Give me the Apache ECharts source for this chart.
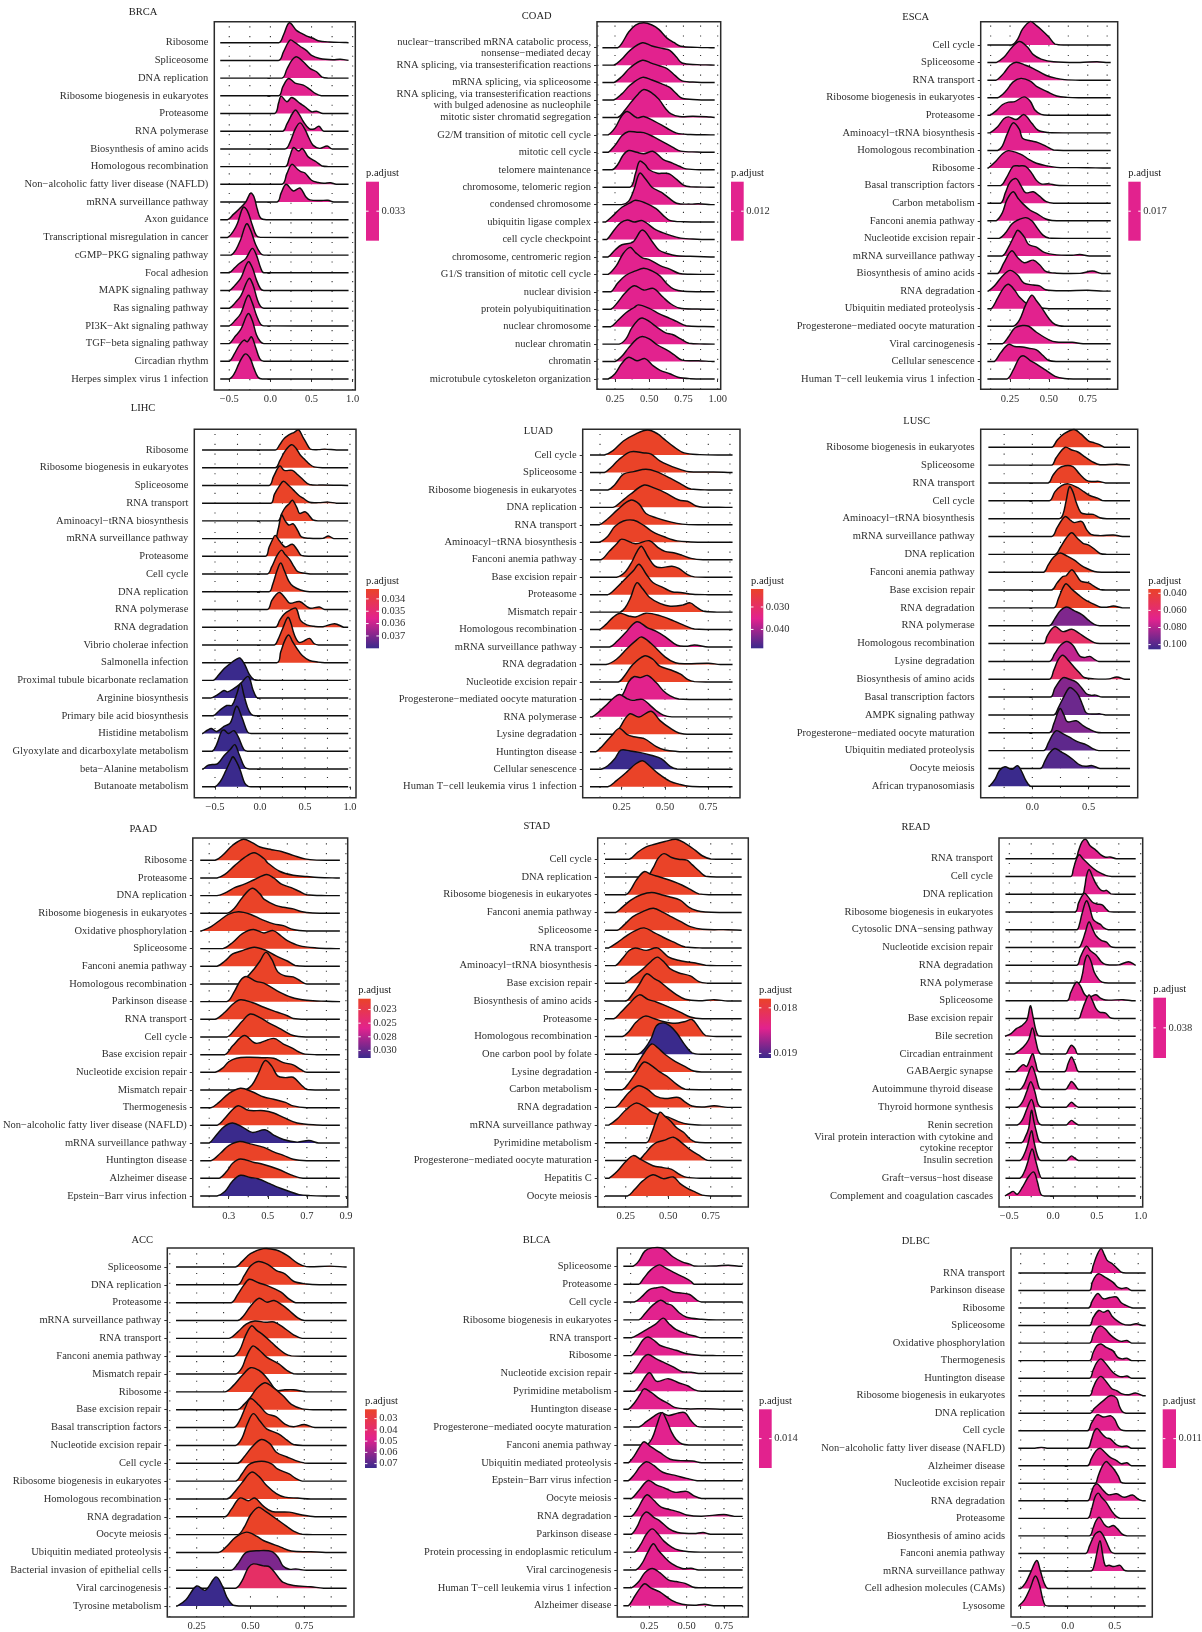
<!DOCTYPE html>
<html>
<head>
<meta charset="utf-8">
<script src="https://cdn.jsdelivr.net/npm/echarts@6/dist/echarts.min.js"></script>
<style>
html,body{margin:0;padding:0;background:#fff;}
#chart{width:1202px;height:1632px;}
</style>
</head>
<body>
<div id="chart"></div>
<script>
// ---------------- data ----------------
// Each ridge row is a flat list of [x, height] pairs; height is in units of one row spacing.

const brcaTerms = ["Ribosome","Spliceosome","DNA replication","Ribosome biogenesis in eukaryotes","Proteasome","RNA polymerase","Biosynthesis of amino acids","Homologous recombination","Non\u2212alcoholic fatty liver disease (NAFLD)","mRNA surveillance pathway","Axon guidance","Transcriptional misregulation in cancer","cGMP\u2212PKG signaling pathway","Focal adhesion","MAPK signaling pathway","Ras signaling pathway","PI3K\u2212Akt signaling pathway","TGF\u2212beta signaling pathway","Circadian rhythm","Herpes simplex virus 1 infection"];
const brcaPadj = [0.033,0.033,0.033,0.033,0.033,0.033,0.033,0.033,0.033,0.033,0.033,0.033,0.033,0.033,0.033,0.033,0.033,0.033,0.033,0.033];
const brcaTicks = [-0.5, 0, 0.5, 1.0];
const brcaBreaks = [0.033];
const brcaBreakLabels = ["0.033"];
const brcaRidges = [
 [0.1,0, 0.16,0.45, 0.23,1.13, 0.32,0.68, 0.38,0.53, 0.46,0.34, 0.52,0.25, 0.58,0.11, 0.72,0.04, 0.9,0.01],
 [0.1,0, 0.16,0.5, 0.24,1.15, 0.3,1.0, 0.36,0.8, 0.44,0.55, 0.5,0.28, 0.6,0.11, 0.76,0.04, 0.85,0.07, 0.95,0],
 [0.14,0, 0.2,0.5, 0.26,1.0, 0.32,1.2, 0.4,0.92, 0.48,0.55, 0.56,0.36, 0.63,0.05, 0.7,0],
 [0.1,0, 0.15,0.5, 0.22,0.98, 0.3,0.72, 0.4,0.6, 0.48,0.36, 0.55,0.12, 0.62,0],
 [0.05,0, 0.1,0.6, 0.13,0.98, 0.2,0.66, 0.26,0.9, 0.36,0.57, 0.42,0.38, 0.5,0.1, 0.56,0.13, 0.64,0],
 [0.15,0, 0.2,0.4, 0.3,1.19, 0.35,0.95, 0.4,0.55, 0.47,0.15, 0.53,0.12, 0.59,0.28, 0.65,0],
 [0.18,0, 0.24,0.4, 0.3,1.1, 0.36,1.47, 0.42,1.1, 0.47,0.6, 0.52,0.2, 0.6,0.03, 0.69,0.16, 0.75,0],
 [0.18,0, 0.23,0.5, 0.28,1.07, 0.34,0.88, 0.39,1.02, 0.46,0.55, 0.56,0.26, 0.63,0.03, 0.7,0],
 [0.14,0, 0.2,0.6, 0.26,1.13, 0.33,0.85, 0.37,0.72, 0.42,0.64, 0.5,0.23, 0.58,0.1, 0.65,0.06, 0.73,0.09, 0.8,0],
 [0.08,0, 0.13,0.5, 0.19,1.0, 0.28,0.62, 0.36,0.79, 0.43,0.3, 0.48,0.12, 0.6,0.08, 0.7,0.1, 0.77,0],
 [-0.52,0, -0.45,0.3, -0.38,0.6, -0.3,1.0, -0.24,1.5, -0.2,1.3, -0.16,0.6, -0.12,0.1, -0.05,0],
 [-0.52,0, -0.45,0.35, -0.4,0.8, -0.33,1.7, -0.28,1.5, -0.22,0.7, -0.17,0.1, -0.12,0],
 [-0.48,0, -0.42,0.3, -0.36,0.9, -0.29,1.77, -0.24,1.4, -0.18,0.6, -0.12,0.1, -0.08,0],
 [-0.5,0, -0.43,0.3, -0.37,0.55, -0.3,0.8, -0.22,1.38, -0.17,1.0, -0.12,0.3, -0.08,0],
 [-0.5,0, -0.43,0.3, -0.36,0.7, -0.27,1.62, -0.22,1.3, -0.17,0.6, -0.12,0.1, -0.08,0],
 [-0.5,0, -0.43,0.3, -0.36,0.7, -0.26,1.68, -0.21,1.3, -0.16,0.5, -0.12,0.1, -0.08,0],
 [-0.5,0, -0.43,0.3, -0.36,0.7, -0.27,1.73, -0.22,1.3, -0.17,0.6, -0.12,0.1, -0.08,0],
 [-0.5,0, -0.43,0.4, -0.36,0.8, -0.27,1.7, -0.22,1.3, -0.17,0.5, -0.12,0.1, -0.08,0],
 [-0.5,0, -0.44,0.4, -0.38,0.9, -0.32,1.2, -0.28,1.1, -0.23,1.38, -0.18,0.8, -0.13,0.15, -0.08,0],
 [-0.5,0, -0.44,0.3, -0.38,0.9, -0.31,1.41, -0.25,1.2, -0.2,0.6, -0.15,0.1, -0.1,0]
];

const coadTerms = ["nuclear\u2212transcribed mRNA catabolic process,\nnonsense\u2212mediated decay","RNA splicing, via transesterification reactions","mRNA splicing, via spliceosome","RNA splicing, via transesterification reactions\nwith bulged adenosine as nucleophile","mitotic sister chromatid segregation","G2/M transition of mitotic cell cycle","mitotic cell cycle","telomere maintenance","chromosome, telomeric region","condensed chromosome","ubiquitin ligase complex","cell cycle checkpoint","chromosome, centromeric region","G1/S transition of mitotic cell cycle","nuclear division","protein polyubiquitination","nuclear chromosome","nuclear chromatin","chromatin","microtubule cytoskeleton organization"];
const coadPadj = [0.012,0.012,0.012,0.012,0.012,0.012,0.012,0.012,0.012,0.012,0.012,0.012,0.012,0.012,0.012,0.012,0.012,0.012,0.012,0.012];
const coadTicks = [0.25, 0.5, 0.75, 1.0];
const coadBreaks = [0.012];
const coadBreakLabels = ["0.012"];
const coadRidges = [
 [0.27,0, 0.3,0.25, 0.35,0.9, 0.4,1.3, 0.46,1.43, 0.52,1.3, 0.57,1.05, 0.63,0.55, 0.68,0.3, 0.73,0.08, 0.85,0.02, 0.95,0],
 [0.24,0, 0.3,0.35, 0.36,0.85, 0.45,1.28, 0.52,1.1, 0.6,0.95, 0.65,0.85, 0.7,0.45, 0.74,0.12, 0.85,0.03, 0.95,0.01],
 [0.24,0, 0.3,0.35, 0.36,0.85, 0.45,1.28, 0.52,1.1, 0.58,0.95, 0.63,0.8, 0.69,0.4, 0.74,0.1, 0.85,0.02, 0.95,0],
 [0.24,0, 0.3,0.35, 0.36,0.85, 0.45,1.3, 0.52,1.15, 0.6,0.9, 0.65,0.72, 0.7,0.35, 0.74,0.1, 0.85,0.02, 0.95,0],
 [0.27,0, 0.32,0.4, 0.37,0.9, 0.42,1.35, 0.46,1.6, 0.52,1.4, 0.57,1.05, 0.62,0.5, 0.66,0.2, 0.72,0.05, 0.82,0.07, 0.95,0.02],
 [0.2,0, 0.25,0.4, 0.3,1.1, 0.34,1.34, 0.41,0.98, 0.46,1.05, 0.54,0.78, 0.63,0.38, 0.7,0.1, 0.8,0.02, 0.95,0],
 [0.2,0, 0.25,0.4, 0.3,0.95, 0.35,1.19, 0.41,1.15, 0.46,1.13, 0.53,0.9, 0.6,0.6, 0.67,0.3, 0.73,0.07, 0.85,0.02, 0.95,0],
 [0.23,0, 0.27,0.3, 0.31,0.85, 0.35,1.1, 0.41,1.0, 0.46,0.92, 0.53,1.05, 0.6,0.6, 0.67,0.38, 0.72,0.2, 0.77,0.05, 0.9,0],
 [0.36,0, 0.4,0.8, 0.43,1.49, 0.47,1.3, 0.5,1.0, 0.56,0.8, 0.61,0.8, 0.65,0.75, 0.7,0.45, 0.75,0.12, 0.8,0.02, 0.95,0],
 [0.3,0, 0.35,0.2, 0.39,0.9, 0.43,1.8, 0.47,1.5, 0.52,1.0, 0.59,0.7, 0.64,0.4, 0.7,0.08, 0.8,0.03, 0.86,0.05, 0.95,0],
 [0.18,0, 0.24,0.4, 0.3,0.85, 0.36,1.1, 0.4,1.25, 0.47,1.1, 0.55,0.77, 0.6,0.4, 0.65,0.1, 0.75,0.02, 0.95,0],
 [0.19,0, 0.24,0.5, 0.29,0.95, 0.34,1.12, 0.39,1.0, 0.45,1.08, 0.55,0.55, 0.65,0.25, 0.73,0.08, 0.85,0.02, 0.95,0],
 [0.2,0, 0.25,0.4, 0.3,0.7, 0.38,0.85, 0.45,1.54, 0.52,0.9, 0.57,0.4, 0.63,0.2, 0.7,0.07, 0.85,0.03, 0.95,0],
 [0.2,0, 0.26,0.5, 0.31,1.2, 0.36,1.55, 0.4,1.25, 0.45,0.95, 0.5,0.85, 0.58,0.5, 0.65,0.3, 0.72,0.05, 0.8,0.01, 0.95,0],
 [0.22,0, 0.27,0.5, 0.33,0.95, 0.4,1.2, 0.46,1.35, 0.52,1.2, 0.58,0.9, 0.63,0.45, 0.68,0.15, 0.75,0.03, 0.95,0],
 [0.22,0, 0.27,0.4, 0.32,0.9, 0.39,1.35, 0.46,1.1, 0.53,1.2, 0.6,0.7, 0.65,0.35, 0.72,0.07, 0.85,0.01, 0.95,0],
 [0.22,0, 0.27,0.35, 0.33,0.8, 0.39,1.1, 0.42,1.25, 0.5,1.05, 0.57,0.75, 0.65,0.48, 0.7,0.3, 0.77,0.05, 0.9,0.01],
 [0.28,0, 0.33,0.3, 0.37,0.9, 0.42,1.4, 0.45,1.5, 0.5,1.3, 0.56,0.95, 0.62,0.65, 0.67,0.55, 0.73,0.3, 0.79,0.05, 0.9,0.01],
 [0.25,0, 0.3,0.3, 0.35,0.8, 0.41,1.3, 0.45,1.44, 0.5,1.3, 0.56,0.95, 0.63,0.65, 0.68,0.4, 0.74,0.08, 0.86,0.05, 0.95,0.01],
 [0.2,0, 0.25,0.3, 0.3,0.9, 0.35,1.25, 0.41,1.05, 0.47,1.17, 0.53,0.75, 0.58,0.5, 0.65,0.3, 0.71,0.1, 0.8,0.02, 0.95,0]
];

const escaTerms = ["Cell cycle","Spliceosome","RNA transport","Ribosome biogenesis in eukaryotes","Proteasome","Aminoacyl\u2212tRNA biosynthesis","Homologous recombination","Ribosome","Basal transcription factors","Carbon metabolism","Fanconi anemia pathway","Nucleotide excision repair","mRNA surveillance pathway","Biosynthesis of amino acids","RNA degradation","Ubiquitin mediated proteolysis","Progesterone\u2212mediated oocyte maturation","Viral carcinogenesis","Cellular senescence","Human T\u2212cell leukemia virus 1 infection"];
const escaPadj = [0.017,0.017,0.017,0.017,0.017,0.017,0.017,0.017,0.017,0.017,0.017,0.017,0.017,0.017,0.017,0.017,0.017,0.017,0.017,0.017];
const escaTicks = [0.25, 0.5, 0.75];
const escaBreaks = [0.017];
const escaBreakLabels = ["0.017"];
const escaRidges = [
 [0.26,0, 0.3,0.35, 0.33,0.9, 0.38,1.33, 0.42,1.1, 0.46,0.8, 0.5,0.45, 0.54,0.05, 0.6,0],
 [0.16,0, 0.21,0.3, 0.26,0.85, 0.31,1.2, 0.36,0.9, 0.4,0.45, 0.45,0.2, 0.53,0.05, 0.7,0.01, 0.81,0.05, 0.88,0],
 [0.16,0, 0.21,0.4, 0.25,0.85, 0.29,1.02, 0.35,0.85, 0.4,0.66, 0.48,0.28, 0.55,0.1, 0.6,0.03, 0.7,0],
 [0.17,0, 0.22,0.35, 0.27,0.9, 0.32,1.1, 0.38,0.95, 0.42,0.65, 0.49,0.34, 0.55,0.1, 0.62,0.02, 0.7,0],
 [0.12,0, 0.16,0.25, 0.2,0.6, 0.24,0.75, 0.28,0.78, 0.34,1.05, 0.38,0.8, 0.41,0.3, 0.45,0.05, 0.5,0],
 [0.12,0, 0.17,0.35, 0.21,0.8, 0.24,0.91, 0.29,0.76, 0.34,1.04, 0.39,0.55, 0.43,0.15, 0.5,0.02, 0.6,0],
 [0.17,0, 0.2,0.25, 0.23,0.9, 0.27,1.57, 0.31,1.2, 0.33,0.7, 0.38,0.55, 0.43,0.45, 0.48,0.25, 0.53,0.03, 0.6,0],
 [0.11,0, 0.16,0.4, 0.2,0.8, 0.24,0.99, 0.3,0.85, 0.33,0.74, 0.37,0.5, 0.42,0.27, 0.49,0.12, 0.55,0.04, 0.75,0.02, 0.85,0],
 [0.19,0, 0.23,0.5, 0.27,1.1, 0.31,1.12, 0.35,1.1, 0.39,0.7, 0.42,0.3, 0.45,0.1, 0.5,0.1, 0.55,0.02, 0.65,0],
 [0.19,0, 0.22,0.6, 0.25,1.2, 0.29,1.4, 0.32,1.0, 0.35,0.6, 0.4,0.65, 0.44,0.4, 0.48,0.1, 0.53,0],
 [0.16,0, 0.2,0.45, 0.23,1.2, 0.27,1.65, 0.3,1.3, 0.33,0.99, 0.38,0.6, 0.42,0.42, 0.48,0.1, 0.52,0.02, 0.6,0],
 [0.18,0, 0.22,0.3, 0.26,0.8, 0.29,1.0, 0.35,1.18, 0.39,1.0, 0.42,0.65, 0.46,0.2, 0.5,0.02, 0.6,0],
 [0.2,0, 0.24,0.5, 0.28,1.2, 0.3,1.46, 0.34,1.1, 0.37,0.65, 0.42,0.5, 0.47,0.2, 0.55,0.06, 0.65,0.04, 0.7,0.08, 0.76,0],
 [0.17,0, 0.21,0.6, 0.26,1.29, 0.3,0.9, 0.34,0.61, 0.4,0.76, 0.44,0.5, 0.48,0.12, 0.55,0.02, 0.7,0.01, 0.78,0.14, 0.84,0],
 [0.11,0, 0.15,0.3, 0.2,0.85, 0.25,1.18, 0.3,0.9, 0.34,0.45, 0.4,0.35, 0.44,0.3, 0.48,0.08, 0.6,0.02, 0.75,0.05, 0.85,0],
 [0.13,0, 0.17,0.6, 0.21,1.2, 0.24,1.39, 0.28,1.05, 0.31,0.66, 0.36,0.28, 0.43,0.08, 0.5,0],
 [0.27,0, 0.31,0.35, 0.35,1.2, 0.39,1.77, 0.42,1.45, 0.45,1.1, 0.5,0.44, 0.54,0.1, 0.6,0],
 [0.2,0, 0.24,0.4, 0.28,0.9, 0.33,1.04, 0.37,1.0, 0.42,0.66, 0.5,0.23, 0.55,0.1, 0.65,0.09, 0.72,0],
 [0.15,0, 0.19,0.5, 0.24,0.97, 0.28,0.85, 0.33,0.82, 0.37,0.75, 0.42,0.66, 0.46,0.35, 0.5,0.05, 0.55,0],
 [0.23,0, 0.27,0.5, 0.31,1.2, 0.34,1.31, 0.38,1.05, 0.42,0.85, 0.48,0.5, 0.54,0.15, 0.6,0.03, 0.7,0]
];

const lihcTerms = ["Ribosome","Ribosome biogenesis in eukaryotes","Spliceosome","RNA transport","Aminoacyl\u2212tRNA biosynthesis","mRNA surveillance pathway","Proteasome","Cell cycle","DNA replication","RNA polymerase","RNA degradation","Vibrio cholerae infection","Salmonella infection","Proximal tubule bicarbonate reclamation","Arginine biosynthesis","Primary bile acid biosynthesis","Histidine metabolism","Glyoxylate and dicarboxylate metabolism","beta\u2212Alanine metabolism","Butanoate metabolism"];
const lihcPadj = [0.0332,0.0332,0.0332,0.0332,0.0332,0.0332,0.0332,0.0332,0.0332,0.0332,0.0332,0.0332,0.0332,0.038,0.038,0.038,0.038,0.038,0.038,0.038];
const lihcTicks = [-0.5, 0, 0.5, 1.0];
const lihcBreaks = [0.034, 0.035, 0.036, 0.037];
const lihcBreakLabels = ["0.034","0.035","0.036","0.037"];
const lihcRidges = [
 [0.17,0, 0.22,0.3, 0.26,0.6, 0.32,0.85, 0.38,1.0, 0.43,1.13, 0.48,0.7, 0.52,0.35, 0.56,0.05, 0.65,0.02, 0.72,0.05, 0.85,0],
 [0.17,0, 0.22,0.4, 0.28,0.95, 0.35,1.3, 0.4,1.1, 0.45,0.7, 0.5,0.45, 0.55,0.2, 0.6,0.05, 0.7,0],
 [0.1,0, 0.15,0.5, 0.22,1.1, 0.27,0.85, 0.36,0.85, 0.42,0.6, 0.48,0.32, 0.55,0.05, 0.7,0.02, 0.9,0.01],
 [0.12,0, 0.16,0.5, 0.22,1.0, 0.26,1.24, 0.32,1.0, 0.37,0.75, 0.43,0.45, 0.48,0.28, 0.55,0.05, 0.65,0.03, 0.76,0.06, 0.85,0],
 [0.2,0, 0.24,0.4, 0.28,0.75, 0.33,1.0, 0.36,1.17, 0.41,0.75, 0.44,0.42, 0.5,0.52, 0.54,0.35, 0.59,0.05, 0.65,0],
 [0.16,0, 0.2,0.5, 0.24,1.33, 0.28,1.0, 0.32,0.77, 0.37,0.83, 0.42,0.45, 0.46,0.1, 0.55,0.02, 0.7,0.02, 0.76,0.15, 0.82,0],
 [0.06,0, 0.1,0.5, 0.14,0.95, 0.17,1.18, 0.22,0.85, 0.28,0.53, 0.36,0.68, 0.41,0.4, 0.46,0.05, 0.55,0],
 [0.08,0, 0.13,0.4, 0.19,1.05, 0.24,1.35, 0.28,1.1, 0.33,0.83, 0.38,0.4, 0.42,0.13, 0.5,0.05, 0.6,0],
 [0.1,0, 0.14,0.4, 0.19,1.2, 0.23,1.62, 0.27,1.2, 0.32,0.6, 0.37,0.3, 0.45,0.1, 0.55,0],
 [0.08,0, 0.13,0.5, 0.18,0.85, 0.22,0.96, 0.28,0.65, 0.33,0.36, 0.44,0.45, 0.55,0.08, 0.66,0.14, 0.72,0],
 [0.17,0, 0.22,0.4, 0.27,0.75, 0.33,0.95, 0.4,1.07, 0.45,0.38, 0.52,0.13, 0.6,0.05, 0.7,0.03, 0.83,0.2, 0.93,0],
 [0.16,0, 0.2,0.3, 0.25,0.9, 0.31,1.56, 0.34,1.3, 0.38,0.6, 0.43,0.15, 0.48,0.2, 0.55,0.37, 0.6,0.08, 0.65,0],
 [0.19,0, 0.23,0.6, 0.28,1.3, 0.32,1.56, 0.36,1.2, 0.41,0.8, 0.47,0.4, 0.55,0.12, 0.65,0.03, 0.72,0],
 [-0.52,0, -0.46,0.3, -0.4,0.65, -0.33,0.95, -0.26,1.2, -0.22,1.26, -0.17,0.9, -0.12,0.35, -0.07,0.05, 0,0],
 [-0.55,0, -0.47,0.2, -0.4,0.43, -0.36,0.35, -0.3,0.5, -0.22,0.8, -0.13,1.22, -0.08,0.5, -0.04,0.05, 0,0],
 [-0.52,0, -0.45,0.3, -0.37,0.58, -0.31,0.6, -0.26,1.2, -0.215,1.84, -0.18,1.2, -0.14,0.5, -0.1,0.1, -0.05,0],
 [-0.64,0, -0.58,0.2, -0.54,0.28, -0.48,0.12, -0.4,0.4, -0.33,0.6, -0.26,1.54, -0.2,0.9, -0.14,0.1, -0.1,0],
 [-0.53,0, -0.48,0.4, -0.43,1.1, -0.4,1.2, -0.35,1.0, -0.29,1.16, -0.24,0.8, -0.18,0.1, -0.14,0],
 [-0.63,0, -0.58,0.2, -0.53,0.25, -0.47,0.3, -0.4,0.75, -0.33,1.1, -0.28,1.37, -0.23,0.8, -0.17,0.1, -0.12,0],
 [-0.5,0, -0.44,0.3, -0.38,0.9, -0.32,1.55, -0.3,1.69, -0.26,1.4, -0.22,0.94, -0.17,0.2, -0.13,0.02, -0.1,0]
];

const luadTerms = ["Cell cycle","Spliceosome","Ribosome biogenesis in eukaryotes","DNA replication","RNA transport","Aminoacyl\u2212tRNA biosynthesis","Fanconi anemia pathway","Base excision repair","Proteasome","Mismatch repair","Homologous recombination","mRNA surveillance pathway","RNA degradation","Nucleotide excision repair","Progesterone\u2212mediated oocyte maturation","RNA polymerase","Lysine degradation","Huntington disease","Cellular senescence","Human T\u2212cell leukemia virus 1 infection"];
const luadPadj = [0.022,0.022,0.022,0.022,0.022,0.022,0.022,0.022,0.022,0.022,0.022,0.035,0.022,0.022,0.035,0.035,0.022,0.022,0.0484,0.022];
const luadTicks = [0.25, 0.5, 0.75];
const luadBreaks = [0.030, 0.040];
const luadBreakLabels = ["0.030","0.040"];
const luadRidges = [
 [0.15,0, 0.2,0.25, 0.26,0.8, 0.33,1.2, 0.4,1.43, 0.46,1.2, 0.49,0.95, 0.55,0.48, 0.61,0.12, 0.7,0.02, 0.85,0],
 [0.15,0, 0.19,0.3, 0.23,0.7, 0.3,1.18, 0.38,1.12, 0.42,1.05, 0.47,0.67, 0.57,0.23, 0.64,0.04, 0.78,0.03, 0.88,0],
 [0.17,0, 0.21,0.3, 0.26,0.9, 0.32,1.05, 0.39,1.18, 0.45,1.05, 0.53,0.67, 0.6,0.29, 0.65,0.05, 0.75,0],
 [0.2,0, 0.25,0.35, 0.3,0.75, 0.38,1.28, 0.44,1.1, 0.5,0.85, 0.58,0.42, 0.63,0.35, 0.68,0.08, 0.72,0.01, 0.85,0],
 [0.12,0, 0.17,0.35, 0.23,0.9, 0.3,1.41, 0.35,1.2, 0.39,0.65, 0.45,0.4, 0.53,0.17, 0.6,0.04, 0.7,0],
 [0.12,0, 0.17,0.35, 0.21,0.9, 0.26,1.22, 0.32,1.26, 0.38,0.95, 0.43,0.6, 0.5,0.3, 0.57,0.08, 0.65,0.02, 0.75,0],
 [0.13,0, 0.18,0.5, 0.22,0.9, 0.25,1.18, 0.33,0.92, 0.41,1.09, 0.46,0.7, 0.5,0.48, 0.55,0.4, 0.6,0.25, 0.65,0.08, 0.72,0],
 [0.22,0, 0.27,0.3, 0.31,0.9, 0.34,1.5, 0.365,1.77, 0.4,1.2, 0.44,0.65, 0.48,0.55, 0.54,0.63, 0.58,0.5, 0.63,0.15, 0.67,0.02, 0.75,0],
 [0.17,0, 0.22,0.4, 0.27,0.9, 0.32,1.4, 0.35,1.74, 0.39,1.2, 0.43,0.7, 0.49,0.4, 0.54,0.17, 0.59,0.12, 0.66,0.02, 0.75,0],
 [0.24,0, 0.27,0.25, 0.3,0.8, 0.337,1.68, 0.37,1.35, 0.41,0.85, 0.47,0.5, 0.53,0.34, 0.6,0.4, 0.645,0.53, 0.68,0.3, 0.72,0.06, 0.8,0],
 [0.12,0, 0.16,0.3, 0.2,0.7, 0.24,0.94, 0.29,0.78, 0.33,0.72, 0.39,0.94, 0.47,0.8, 0.55,0.5, 0.62,0.2, 0.67,0.03, 0.75,0],
 [0.18,0, 0.22,0.3, 0.27,0.8, 0.337,1.45, 0.4,1.1, 0.45,0.9, 0.5,0.6, 0.57,0.1, 0.63,0.05, 0.67,0.12, 0.75,0],
 [0.16,0, 0.22,0.3, 0.28,0.9, 0.33,1.35, 0.365,1.58, 0.42,1.2, 0.5,0.44, 0.56,0.1, 0.62,0.04, 0.75,0.07, 0.82,0],
 [0.23,0, 0.27,0.4, 0.31,0.95, 0.38,1.49, 0.43,1.3, 0.47,0.9, 0.53,0.7, 0.59,0.45, 0.63,0.15, 0.67,0.02, 0.75,0],
 [0.23,0, 0.26,0.35, 0.29,1.0, 0.32,1.3, 0.36,1.25, 0.4,1.37, 0.45,0.95, 0.49,0.5, 0.53,0.2, 0.58,0.02, 0.65,0],
 [0.08,0, 0.12,0.3, 0.16,0.67, 0.2,1.05, 0.236,1.28, 0.28,1.05, 0.31,0.95, 0.37,1.0, 0.41,0.7, 0.45,0.35, 0.49,0.1, 0.54,0],
 [0.2,0, 0.24,0.4, 0.27,0.9, 0.3,1.18, 0.35,0.99, 0.42,1.32, 0.47,0.8, 0.53,0.35, 0.58,0.08, 0.65,0],
 [0.1,0, 0.14,0.35, 0.19,0.9, 0.236,1.34, 0.28,1.0, 0.32,0.86, 0.38,0.75, 0.45,0.3, 0.5,0.1, 0.57,0.02, 0.65,0],
 [0.13,0, 0.17,0.2, 0.21,0.6, 0.245,1.09, 0.3,1.05, 0.36,0.95, 0.42,0.8, 0.48,0.6, 0.53,0.17, 0.57,0.01, 0.65,0],
 [0.17,0, 0.22,0.35, 0.28,0.85, 0.33,1.3, 0.37,1.49, 0.41,1.2, 0.46,0.76, 0.53,0.3, 0.58,0.15, 0.64,0.03, 0.75,0]
];

const luscTerms = ["Ribosome biogenesis in eukaryotes","Spliceosome","RNA transport","Cell cycle","Aminoacyl\u2212tRNA biosynthesis","mRNA surveillance pathway","DNA replication","Fanconi anemia pathway","Base excision repair","RNA degradation","RNA polymerase","Homologous recombination","Lysine degradation","Biosynthesis of amino acids","Basal transcription factors","AMPK signaling pathway","Progesterone\u2212mediated oocyte maturation","Ubiquitin mediated proteolysis","Oocyte meiosis","African trypanosomiasis"];
const luscPadj = [0.035,0.035,0.035,0.035,0.035,0.035,0.035,0.035,0.035,0.035,0.091,0.056,0.077,0.056,0.090,0.095,0.091,0.098,0.100,0.1055];
const luscTicks = [0, 0.5];
const luscBreaks = [0.04, 0.06, 0.08, 0.10];
const luscBreakLabels = ["0.040","0.060","0.080","0.100"];
const luscRidges = [
 [0.17,0, 0.22,0.4, 0.28,0.75, 0.37,1.0, 0.43,0.75, 0.5,0.35, 0.55,0.25, 0.6,0.14, 0.64,0],
 [0.17,0, 0.21,0.4, 0.29,1.0, 0.35,0.85, 0.4,0.75, 0.47,0.45, 0.53,0.2, 0.6,0.02, 0.75,0.05, 0.86,0],
 [0.14,0, 0.18,0.4, 0.23,0.8, 0.29,0.97, 0.36,0.92, 0.42,0.5, 0.48,0.15, 0.53,0.08, 0.59,0.09, 0.65,0],
 [0.15,0, 0.2,0.5, 0.26,0.85, 0.32,0.95, 0.4,0.75, 0.46,0.5, 0.51,0.3, 0.58,0.15, 0.62,0.02, 0.7,0],
 [0.24,0, 0.27,0.2, 0.3,1.0, 0.33,1.8, 0.36,1.5, 0.39,0.9, 0.43,0.35, 0.48,0.25, 0.54,0.24, 0.6,0.05, 0.66,0],
 [0.17,0, 0.22,0.5, 0.29,1.12, 0.34,0.9, 0.37,0.78, 0.44,0.84, 0.48,0.4, 0.52,0.12, 0.6,0.05, 0.72,0.08, 0.8,0],
 [0.2,0, 0.25,0.4, 0.3,0.9, 0.35,1.21, 0.4,0.9, 0.45,0.62, 0.5,0.52, 0.55,0.3, 0.6,0.05, 0.66,0],
 [0.1,0, 0.14,0.4, 0.19,0.85, 0.245,1.07, 0.31,0.9, 0.37,0.69, 0.43,0.4, 0.48,0.22, 0.55,0.04, 0.62,0],
 [0.17,0, 0.22,0.4, 0.27,0.76, 0.3,0.8, 0.35,1.14, 0.39,0.85, 0.43,0.5, 0.5,0.4, 0.55,0.2, 0.6,0.03, 0.66,0],
 [0.19,0, 0.23,0.5, 0.27,1.1, 0.3,1.35, 0.35,1.05, 0.41,0.73, 0.48,0.4, 0.55,0.2, 0.6,0.05, 0.66,0.04, 0.72,0.1, 0.8,0],
 [0.15,0, 0.2,0.4, 0.25,0.85, 0.305,1.05, 0.37,0.85, 0.44,0.62, 0.5,0.3, 0.55,0.08, 0.6,0],
 [0.1,0, 0.13,0.4, 0.17,0.8, 0.207,0.95, 0.27,0.67, 0.35,0.8, 0.41,0.6, 0.48,0.3, 0.55,0.05, 0.6,0],
 [0.15,0, 0.2,0.45, 0.25,0.9, 0.305,1.12, 0.36,0.9, 0.42,0.3, 0.46,0.22, 0.51,0.28, 0.55,0.12, 0.59,0],
 [0.15,0, 0.19,0.5, 0.23,1.1, 0.27,1.35, 0.32,1.05, 0.37,0.69, 0.42,0.35, 0.46,0.1, 0.55,0.02, 0.68,0.02, 0.75,0.13, 0.82,0],
 [0.16,0, 0.2,0.5, 0.27,1.08, 0.33,1.0, 0.39,0.84, 0.44,0.5, 0.48,0.19, 0.52,0.1, 0.56,0.11, 0.62,0],
 [0.19,0, 0.23,0.4, 0.27,0.9, 0.33,1.53, 0.37,1.4, 0.41,1.1, 0.45,0.5, 0.48,0.11, 0.55,0.05, 0.6,0.06, 0.65,0],
 [0.15,0, 0.19,0.5, 0.245,1.36, 0.28,1.0, 0.31,0.62, 0.39,0.67, 0.45,0.4, 0.51,0.19, 0.57,0.03, 0.62,0],
 [0.1,0, 0.14,0.4, 0.18,0.9, 0.216,1.12, 0.27,0.95, 0.33,0.75, 0.4,0.5, 0.48,0.32, 0.54,0.1, 0.59,0],
 [0.07,0, 0.11,0.4, 0.15,0.85, 0.2,1.12, 0.25,0.95, 0.3,0.77, 0.36,0.5, 0.42,0.2, 0.47,0.12, 0.53,0.16, 0.6,0],
 [-0.38,0, -0.33,0.4, -0.29,0.9, -0.243,1.1, -0.18,0.95, -0.133,1.16, -0.1,0.9, -0.06,0.36, -0.02,0.02, 0.02,0]
];

const paadTerms = ["Ribosome","Proteasome","DNA replication","Ribosome biogenesis in eukaryotes","Oxidative phosphorylation","Spliceosome","Fanconi anemia pathway","Homologous recombination","Parkinson disease","RNA transport","Cell cycle","Base excision repair","Nucleotide excision repair","Mismatch repair","Thermogenesis","Non\u2212alcoholic fatty liver disease (NAFLD)","mRNA surveillance pathway","Huntington disease","Alzheimer disease","Epstein\u2212Barr virus infection"];
const paadPadj = [0.0205,0.0205,0.0205,0.0205,0.0205,0.0205,0.0205,0.0205,0.0205,0.0205,0.0205,0.0205,0.0205,0.0205,0.0205,0.0205,0.0314,0.0205,0.0205,0.0314];
const paadTicks = [0.3, 0.5, 0.7, 0.9];
const paadBreaks = [0.0225, 0.025, 0.0275, 0.030];
const paadBreakLabels = ["0.023","0.025","0.028","0.030"];
const paadRidges = [
 [0.23,0, 0.27,0.3, 0.32,0.85, 0.375,1.19, 0.42,1.0, 0.46,0.75, 0.52,0.6, 0.57,0.5, 0.63,0.28, 0.69,0.08, 0.75,0.01, 0.85,0],
 [0.24,0, 0.28,0.2, 0.33,0.7, 0.38,1.15, 0.43,1.43, 0.48,1.1, 0.5,0.85, 0.56,0.38, 0.63,0.15, 0.7,0.08, 0.76,0.03, 0.85,0],
 [0.24,0, 0.29,0.2, 0.33,0.45, 0.38,0.65, 0.43,0.9, 0.494,1.2, 0.53,1.0, 0.57,0.65, 0.62,0.45, 0.66,0.25, 0.7,0.05, 0.8,0],
 [0.29,0, 0.33,0.3, 0.37,0.9, 0.42,1.42, 0.46,1.1, 0.48,0.8, 0.54,0.45, 0.58,0.34, 0.63,0.25, 0.67,0.1, 0.73,0.02, 0.85,0],
 [0.16,0, 0.21,0.25, 0.26,0.65, 0.3,0.95, 0.35,1.09, 0.41,0.95, 0.47,0.64, 0.53,0.4, 0.58,0.3, 0.63,0.08, 0.7,0],
 [0.27,0, 0.32,0.35, 0.37,0.85, 0.426,1.08, 0.48,0.89, 0.528,1.02, 0.57,0.7, 0.6,0.45, 0.66,0.17, 0.75,0.04, 0.85,0],
 [0.24,0, 0.28,0.3, 0.32,0.7, 0.36,0.85, 0.43,1.08, 0.49,0.9, 0.54,0.6, 0.6,0.3, 0.64,0.05, 0.7,0],
 [0.35,0, 0.39,0.35, 0.43,0.85, 0.46,1.3, 0.49,1.79, 0.52,1.4, 0.55,0.7, 0.59,0.45, 0.63,0.4, 0.67,0.15, 0.7,0],
 [0.29,0, 0.33,0.6, 0.36,1.2, 0.39,1.42, 0.44,1.15, 0.48,1.05, 0.55,0.6, 0.62,0.25, 0.7,0.08, 0.8,0.02, 0.87,0],
 [0.23,0, 0.28,0.4, 0.32,0.85, 0.36,1.11, 0.42,0.95, 0.48,0.68, 0.55,0.4, 0.6,0.2, 0.63,0.05, 0.7,0],
 [0.29,0, 0.33,0.4, 0.37,0.9, 0.41,1.3, 0.46,1.1, 0.5,0.83, 0.55,0.55, 0.58,0.36, 0.63,0.08, 0.7,0],
 [0.28,0, 0.32,0.5, 0.38,1.08, 0.44,0.64, 0.53,0.92, 0.58,0.6, 0.62,0.4, 0.66,0.15, 0.69,0.03, 0.75,0],
 [0.23,0, 0.27,0.25, 0.3,0.6, 0.34,0.8, 0.4,0.85, 0.47,0.83, 0.53,0.8, 0.58,0.55, 0.63,0.42, 0.67,0.15, 0.7,0],
 [0.38,0, 0.42,0.3, 0.45,0.9, 0.486,1.66, 0.52,1.35, 0.55,0.8, 0.59,0.7, 0.63,0.72, 0.67,0.3, 0.7,0.03, 0.75,0],
 [0.21,0, 0.25,0.3, 0.3,0.8, 0.36,1.1, 0.42,0.9, 0.48,0.6, 0.53,0.48, 0.59,0.3, 0.63,0.1, 0.7,0],
 [0.24,0, 0.28,0.4, 0.32,0.9, 0.35,1.11, 0.4,0.85, 0.48,0.83, 0.53,0.7, 0.58,0.45, 0.65,0.13, 0.75,0.02, 0.86,0],
 [0.2,0, 0.24,0.5, 0.28,0.95, 0.32,1.13, 0.37,0.9, 0.42,0.6, 0.486,0.75, 0.53,0.45, 0.58,0.2, 0.65,0.05, 0.71,0.14, 0.76,0],
 [0.21,0, 0.26,0.45, 0.3,0.85, 0.355,1.08, 0.41,0.95, 0.48,0.75, 0.53,0.5, 0.58,0.3, 0.63,0.08, 0.7,0],
 [0.25,0, 0.29,0.4, 0.32,0.85, 0.36,1.09, 0.43,0.9, 0.47,0.81, 0.55,0.53, 0.63,0.15, 0.68,0, 0.8,0],
 [0.24,0, 0.28,0.25, 0.32,0.85, 0.36,1.17, 0.41,1.05, 0.45,0.98, 0.51,0.7, 0.55,0.5, 0.6,0.3, 0.66,0.08, 0.72,0.02, 0.8,0]
];

const stadTerms = ["Cell cycle","DNA replication","Ribosome biogenesis in eukaryotes","Fanconi anemia pathway","Spliceosome","RNA transport","Aminoacyl\u2212tRNA biosynthesis","Base excision repair","Biosynthesis of amino acids","Proteasome","Homologous recombination","One carbon pool by folate","Lysine degradation","Carbon metabolism","RNA degradation","mRNA surveillance pathway","Pyrimidine metabolism","Progesterone\u2212mediated oocyte maturation","Hepatitis C","Oocyte meiosis"];
const stadPadj = [0.0178,0.0178,0.0178,0.0178,0.0178,0.0178,0.0178,0.0178,0.0178,0.0178,0.0178,0.0191,0.0178,0.0178,0.0178,0.0178,0.0178,0.0178,0.0178,0.0178];
const stadTicks = [0.25, 0.5, 0.75];
const stadBreaks = [0.018, 0.019];
const stadBreakLabels = ["0.018","0.019"];
const stadRidges = [
 [0.27,0, 0.32,0.4, 0.37,0.7, 0.42,0.85, 0.48,1.0, 0.546,1.13, 0.6,0.9, 0.66,0.5, 0.7,0.2, 0.75,0.02, 0.85,0],
 [0.37,0, 0.41,0.5, 0.44,1.05, 0.475,1.32, 0.52,1.1, 0.56,1.0, 0.61,0.95, 0.64,0.7, 0.68,0.35, 0.72,0.04, 0.8,0],
 [0.25,0, 0.28,0.3, 0.31,0.8, 0.358,1.3, 0.4,1.15, 0.45,1.0, 0.53,0.75, 0.58,0.55, 0.63,0.3, 0.68,0.05, 0.75,0],
 [0.19,0, 0.23,0.3, 0.28,0.7, 0.34,1.0, 0.403,1.13, 0.46,1.0, 0.5,0.9, 0.57,0.7, 0.62,0.3, 0.67,0.1, 0.72,0.03, 0.8,0],
 [0.2,0, 0.24,0.3, 0.29,0.75, 0.35,1.05, 0.413,1.24, 0.47,1.0, 0.52,0.75, 0.58,0.45, 0.63,0.2, 0.7,0.05, 0.85,0.03, 0.93,0],
 [0.15,0, 0.2,0.3, 0.25,0.65, 0.3,0.95, 0.358,1.13, 0.42,0.85, 0.47,0.6, 0.53,0.34, 0.6,0.05, 0.7,0],
 [0.19,0, 0.23,0.4, 0.27,0.85, 0.305,1.0, 0.37,0.86, 0.436,1.0, 0.5,0.5, 0.56,0.3, 0.62,0.2, 0.66,0.15, 0.72,0.02, 0.8,0],
 [0.24,0, 0.29,0.35, 0.35,0.8, 0.4,1.25, 0.436,1.48, 0.48,1.15, 0.51,0.83, 0.56,0.6, 0.63,0.42, 0.68,0.1, 0.73,0.01, 0.8,0],
 [0.25,0, 0.29,0.4, 0.33,0.95, 0.374,1.54, 0.42,1.25, 0.45,1.1, 0.5,0.7, 0.55,0.35, 0.6,0.1, 0.68,0.02, 0.77,0.08, 0.85,0],
 [0.18,0, 0.22,0.35, 0.27,0.85, 0.33,1.35, 0.38,1.1, 0.43,0.95, 0.47,0.8, 0.57,0.38, 0.63,0.1, 0.7,0],
 [0.23,0, 0.27,0.3, 0.31,0.8, 0.364,1.15, 0.42,1.0, 0.47,0.85, 0.54,0.75, 0.6,0.85, 0.64,0.96, 0.68,0.5, 0.72,0.05, 0.8,0],
 [0.32,0, 0.36,0.3, 0.4,0.9, 0.43,1.6, 0.47,1.77, 0.51,1.6, 0.55,1.2, 0.6,0.5, 0.64,0.08, 0.7,0],
 [0.28,0, 0.32,0.5, 0.36,1.1, 0.403,1.58, 0.44,1.35, 0.48,1.0, 0.54,0.6, 0.6,0.3, 0.65,0.05, 0.7,0],
 [0.23,0, 0.27,0.4, 0.31,0.95, 0.358,1.56, 0.41,1.3, 0.45,1.0, 0.5,0.7, 0.55,0.3, 0.6,0.02, 0.7,0],
 [0.19,0, 0.23,0.4, 0.27,0.85, 0.325,1.22, 0.38,1.0, 0.43,0.62, 0.48,0.5, 0.56,0.56, 0.6,0.3, 0.64,0.08, 0.7,0.02, 0.77,0.09, 0.85,0],
 [0.15,0, 0.2,0.35, 0.25,0.85, 0.31,1.24, 0.36,1.05, 0.41,0.7, 0.5,0.45, 0.56,0.2, 0.62,0.05, 0.7,0],
 [0.37,0, 0.4,0.5, 0.43,1.3, 0.452,1.73, 0.48,1.5, 0.51,1.26, 0.55,0.85, 0.59,0.6, 0.63,0.2, 0.66,0.05, 0.72,0],
 [0.32,0, 0.36,0.35, 0.4,0.8, 0.432,1.03, 0.48,1.15, 0.53,1.32, 0.58,1.0, 0.63,0.6, 0.68,0.3, 0.73,0.02, 0.8,0],
 [0.15,0, 0.2,0.4, 0.25,0.95, 0.295,1.28, 0.34,1.05, 0.41,0.71, 0.47,0.6, 0.52,0.5, 0.57,0.2, 0.61,0.05, 0.7,0],
 [0.26,0, 0.3,0.35, 0.35,0.85, 0.41,1.2, 0.47,0.98, 0.53,1.07, 0.57,0.7, 0.61,0.45, 0.66,0.22, 0.7,0.05, 0.75,0]
];

const readTerms = ["RNA transport","Cell cycle","DNA replication","Ribosome biogenesis in eukaryotes","Cytosolic DNA\u2212sensing pathway","Nucleotide excision repair","RNA degradation","RNA polymerase","Spliceosome","Base excision repair","Bile secretion","Circadian entrainment","GABAergic synapse","Autoimmune thyroid disease","Thyroid hormone synthesis","Renin secretion","Viral protein interaction with cytokine and\ncytokine receptor","Insulin secretion","Graft\u2212versus\u2212host disease","Complement and coagulation cascades"];
const readPadj = [0.038,0.038,0.038,0.038,0.038,0.038,0.038,0.038,0.038,0.038,0.038,0.038,0.038,0.038,0.038,0.038,0.038,0.038,0.038,0.038];
const readTicks = [-0.5, 0, 0.5, 1.0];
const readBreaks = [0.038];
const readBreakLabels = ["0.038"];
const readRidges = [
 [0.25,0, 0.29,0.45, 0.33,0.95, 0.373,1.09, 0.42,0.75, 0.49,0.47, 0.55,0.2, 0.6,0.08, 0.65,0.1, 0.72,0],
 [0.2,0, 0.23,0.4, 0.26,0.9, 0.297,1.22, 0.34,1.0, 0.42,0.62, 0.5,0.3, 0.55,0.17, 0.6,0.06, 0.67,0],
 [0.33,0, 0.36,0.4, 0.38,1.0, 0.41,1.39, 0.45,1.0, 0.49,0.58, 0.54,0.25, 0.58,0.18, 0.61,0.22, 0.66,0.02, 0.72,0],
 [0.25,0, 0.29,0.5, 0.33,0.9, 0.36,1.05, 0.4,0.85, 0.45,0.55, 0.5,0.45, 0.56,0.4, 0.6,0.2, 0.64,0.02, 0.7,0],
 [0.27,0, 0.3,0.3, 0.33,0.9, 0.38,1.63, 0.42,1.2, 0.455,0.6, 0.5,0.4, 0.54,0.3, 0.58,0.1, 0.63,0],
 [0.29,0, 0.33,0.3, 0.37,0.9, 0.41,1.44, 0.45,1.05, 0.49,0.66, 0.55,0.4, 0.61,0.3, 0.66,0.05, 0.72,0],
 [0.27,0, 0.31,0.45, 0.38,1.07, 0.43,0.8, 0.49,0.58, 0.55,0.2, 0.6,0.04, 0.75,0.02, 0.86,0.2, 0.94,0],
 [0.29,0, 0.33,0.4, 0.36,1.2, 0.39,1.56, 0.43,1.25, 0.47,0.6, 0.52,0.2, 0.56,0.05, 0.63,0],
 [0.16,0, 0.2,0.45, 0.266,1.05, 0.31,0.85, 0.36,0.35, 0.41,0.2, 0.49,0.34, 0.54,0.15, 0.6,0.04, 0.8,0.06, 0.9,0],
 [0.29,0, 0.32,0.3, 0.36,0.85, 0.41,1.33, 0.45,1.0, 0.49,0.55, 0.53,0.36, 0.6,0.3, 0.65,0.05, 0.7,0],
 [-0.55,0, -0.48,0.15, -0.42,0.43, -0.36,0.58, -0.3,0.9, -0.26,1.71, -0.23,1.1, -0.2,0.4, -0.17,0.03, -0.12,0],
 [-0.45,0, -0.4,0.15, -0.34,0.39, -0.28,0.8, -0.236,1.46, -0.2,0.8, -0.17,0.2, -0.14,0, 0.14,0, 0.18,0.3, 0.21,0.49, 0.25,0.3, 0.28,0, 0.4,0],
 [-0.43,0, -0.38,0.25, -0.34,0.4, -0.3,0.3, -0.236,1.01, -0.2,0.5, -0.16,0, 0.13,0, 0.17,0.45, 0.21,0.83, 0.25,0.45, 0.29,0, 0.4,0],
 [-0.38,0, -0.33,0.3, -0.29,0.8, -0.243,1.31, -0.2,0.8, -0.16,0.1, -0.13,0, 0.14,0, 0.18,0.25, 0.21,0.45, 0.25,0.25, 0.29,0, 0.4,0],
 [-0.41,0, -0.35,0.3, -0.3,0.9, -0.255,1.44, -0.21,0.9, -0.17,0.15, -0.13,0, 0.15,0, 0.18,0.15, 0.21,0.28, 0.25,0.12, 0.29,0, 0.4,0],
 [-0.41,0, -0.35,0.3, -0.3,0.9, -0.247,1.44, -0.21,0.9, -0.17,0.15, -0.13,0, 0.15,0, 0.18,0.14, 0.21,0.26, 0.25,0.12, 0.29,0, 0.4,0],
 [-0.36,0, -0.32,0.3, -0.28,0.8, -0.247,1.82, -0.22,1.2, -0.19,0.6, -0.16,0.1, -0.12,0],
 [-0.38,0, -0.33,0.35, -0.29,0.9, -0.247,1.67, -0.22,1.1, -0.18,0.3, -0.14,0, 0.15,0, 0.18,0.14, 0.21,0.26, 0.25,0.12, 0.29,0, 0.4,0],
 [-0.38,0, -0.33,0.35, -0.29,0.9, -0.24,1.65, -0.2,1.0, -0.16,0.3, -0.13,0, 0,0],
 [-0.55,0, -0.5,0.15, -0.456,0.26, -0.41,0.1, -0.35,0.5, -0.28,1.1, -0.22,1.35, -0.18,0.8, -0.14,0.1, -0.1,0]
];

const accTerms = ["Spliceosome","DNA replication","Proteasome","mRNA surveillance pathway","RNA transport","Fanconi anemia pathway","Mismatch repair","Ribosome","Base excision repair","Basal transcription factors","Nucleotide excision repair","Cell cycle","Ribosome biogenesis in eukaryotes","Homologous recombination","RNA degradation","Oocyte meiosis","Ubiquitin mediated proteolysis","Bacterial invasion of epithelial cells","Viral carcinogenesis","Tyrosine metabolism"];
const accPadj = [0.0217,0.0217,0.0217,0.0217,0.0217,0.0217,0.0217,0.0217,0.0217,0.0217,0.0217,0.0217,0.0217,0.0217,0.0217,0.0217,0.0217,0.0635,0.0374,0.0739];
const accTicks = [0.25, 0.5, 0.75];
const accBreaks = [0.03, 0.04, 0.05, 0.06, 0.07];
const accBreakLabels = ["0.03","0.04","0.05","0.06","0.07"];
const accRidges = [
 [0.43,0, 0.46,0.3, 0.5,0.75, 0.56,1.03, 0.62,0.95, 0.67,0.65, 0.72,0.2, 0.76,0.02, 0.87,0.05, 0.94,0],
 [0.44,0, 0.47,0.5, 0.5,1.05, 0.536,1.31, 0.58,1.15, 0.62,0.8, 0.66,0.62, 0.7,0.2, 0.76,0.05, 0.82,0],
 [0.41,0, 0.44,0.45, 0.47,1.0, 0.495,1.31, 0.54,1.1, 0.575,0.97, 0.64,0.6, 0.68,0.2, 0.71,0, 0.8,0],
 [0.44,0, 0.47,0.3, 0.5,0.8, 0.54,1.25, 0.575,1.03, 0.61,1.12, 0.65,0.85, 0.68,0.56, 0.72,0.15, 0.75,0, 0.85,0],
 [0.4,0, 0.44,0.35, 0.48,0.8, 0.52,0.97, 0.57,0.9, 0.61,0.92, 0.66,0.55, 0.7,0.2, 0.74,0, 0.85,0],
 [0.42,0, 0.45,0.35, 0.475,1.1, 0.505,1.7, 0.53,1.45, 0.56,1.18, 0.6,0.75, 0.62,0.52, 0.66,0.15, 0.69,0.02, 0.75,0],
 [0.43,0, 0.46,0.35, 0.48,0.95, 0.51,1.57, 0.54,1.35, 0.575,0.95, 0.63,0.58, 0.67,0.2, 0.7,0.02, 0.75,0],
 [0.38,0, 0.42,0.35, 0.46,0.9, 0.5,1.35, 0.54,1.2, 0.58,0.73, 0.62,0.1, 0.66,0.12, 0.7,0.12, 0.76,0, 0.85,0],
 [0.44,0, 0.47,0.3, 0.5,0.7, 0.53,1.2, 0.567,1.51, 0.6,1.3, 0.65,0.8, 0.69,0.3, 0.74,0.05, 0.8,0],
 [0.42,0, 0.45,0.4, 0.475,1.1, 0.5,1.63, 0.54,1.25, 0.575,0.79, 0.62,0.6, 0.66,0.2, 0.7,0.05, 0.75,0.17, 0.8,0],
 [0.43,0, 0.46,0.4, 0.485,1.2, 0.513,1.78, 0.545,1.35, 0.575,0.93, 0.63,0.65, 0.67,0.3, 0.7,0.05, 0.75,0],
 [0.44,0, 0.47,0.35, 0.51,0.95, 0.55,1.33, 0.59,1.1, 0.62,0.62, 0.67,0.35, 0.71,0.15, 0.75,0.02, 0.8,0],
 [0.43,0, 0.46,0.4, 0.49,0.9, 0.52,1.07, 0.567,1.1, 0.6,0.95, 0.625,0.69, 0.68,0.4, 0.71,0.15, 0.74,0, 0.85,0],
 [0.39,0, 0.42,0.3, 0.46,0.9, 0.505,1.5, 0.54,1.25, 0.575,0.75, 0.62,0.3, 0.66,0.1, 0.72,0.05, 0.78,0],
 [0.38,0, 0.41,0.4, 0.45,1.05, 0.49,0.9, 0.52,1.05, 0.56,0.6, 0.6,0.3, 0.68,0.26, 0.74,0.1, 0.8,0],
 [0.44,0, 0.47,0.4, 0.5,1.1, 0.536,1.53, 0.57,1.3, 0.62,0.88, 0.67,0.45, 0.7,0.2, 0.74,0.02, 0.8,0],
 [0.35,0, 0.39,0.35, 0.43,0.85, 0.482,1.14, 0.53,0.9, 0.56,0.67, 0.64,0.3, 0.69,0.08, 0.78,0.04, 0.85,0],
 [0.41,0, 0.44,0.35, 0.48,1.0, 0.54,1.1, 0.6,1.05, 0.63,0.7, 0.65,0.26, 0.68,0.06, 0.71,0.08, 0.76,0],
 [0.43,0, 0.46,0.4, 0.49,1.15, 0.513,1.36, 0.56,1.25, 0.59,1.18, 0.63,0.6, 0.65,0.34, 0.7,0.15, 0.78,0.08, 0.84,0],
 [0.16,0, 0.2,0.35, 0.25,1.12, 0.29,0.88, 0.34,1.63, 0.37,1.1, 0.39,0.5, 0.42,0.04, 0.46,0]
];

const blcaTerms = ["Spliceosome","Proteasome","Cell cycle","Ribosome biogenesis in eukaryotes","RNA transport","Ribosome","Nucleotide excision repair","Pyrimidine metabolism","Huntington disease","Progesterone\u2212mediated oocyte maturation","Fanconi anemia pathway","Ubiquitin mediated proteolysis","Epstein\u2212Barr virus infection","Oocyte meiosis","RNA degradation","Parkinson disease","Protein processing in endoplasmic reticulum","Viral carcinogenesis","Human T\u2212cell leukemia virus 1 infection","Alzheimer disease"];
const blcaPadj = [0.014,0.014,0.014,0.014,0.014,0.014,0.014,0.014,0.014,0.014,0.014,0.014,0.014,0.014,0.014,0.014,0.014,0.014,0.014,0.014];
const blcaTicks = [0.25, 0.5, 0.75];
const blcaBreaks = [0.014];
const blcaBreakLabels = ["0.014"];
const blcaRidges = [
 [0.14,0, 0.18,0.3, 0.22,0.85, 0.27,1.03, 0.34,1.0, 0.41,0.52, 0.47,0.25, 0.52,0.12, 0.55,0.02, 0.7,0.02, 0.78,0.06, 0.85,0],
 [0.18,0, 0.21,0.3, 0.26,0.8, 0.317,1.08, 0.36,0.9, 0.41,0.67, 0.48,0.39, 0.53,0.15, 0.55,0, 0.7,0],
 [0.15,0, 0.2,0.3, 0.25,0.7, 0.3,0.8, 0.34,0.84, 0.41,0.56, 0.47,0.5, 0.52,0.42, 0.57,0.1, 0.6,0, 0.7,0],
 [0.18,0, 0.22,0.35, 0.27,0.8, 0.326,1.1, 0.37,0.9, 0.4,0.82, 0.45,0.4, 0.5,0.15, 0.6,0.04, 0.7,0],
 [0.13,0, 0.18,0.2, 0.24,0.5, 0.29,0.75, 0.344,1.1, 0.38,0.8, 0.43,0.45, 0.5,0.22, 0.56,0.08, 0.6,0, 0.7,0],
 [0.13,0, 0.17,0.4, 0.21,0.9, 0.243,1.04, 0.29,0.8, 0.32,0.58, 0.38,0.42, 0.43,0.3, 0.5,0.1, 0.58,0.02, 0.7,0],
 [0.13,0, 0.17,0.4, 0.21,0.9, 0.243,1.06, 0.3,0.8, 0.34,0.65, 0.41,0.37, 0.47,0.1, 0.53,0.07, 0.58,0, 0.7,0],
 [0.15,0, 0.19,0.4, 0.25,1.04, 0.3,0.56, 0.377,0.71, 0.45,0.47, 0.51,0.3, 0.55,0.1, 0.6,0, 0.7,0],
 [0.11,0, 0.15,0.35, 0.19,0.85, 0.215,1.14, 0.26,0.95, 0.32,0.58, 0.38,0.3, 0.42,0.1, 0.5,0.02, 0.63,0.03, 0.75,0],
 [0.18,0, 0.23,0.3, 0.28,0.6, 0.326,0.8, 0.38,0.65, 0.44,0.78, 0.49,0.8, 0.53,0.35, 0.57,0.04, 0.62,0, 0.7,0],
 [0.23,0, 0.27,0.4, 0.3,1.1, 0.335,1.81, 0.37,1.3, 0.4,0.7, 0.43,0.3, 0.47,0.05, 0.52,0, 0.7,0],
 [0.11,0, 0.15,0.4, 0.19,0.95, 0.215,1.18, 0.26,0.9, 0.32,0.58, 0.39,0.2, 0.46,0.12, 0.54,0.1, 0.6,0, 0.7,0],
 [0.11,0, 0.15,0.35, 0.19,0.8, 0.232,1.06, 0.28,0.85, 0.34,0.47, 0.43,0.28, 0.5,0.13, 0.57,0, 0.7,0],
 [0.13,0, 0.18,0.45, 0.243,1.01, 0.3,0.75, 0.35,0.6, 0.42,0.35, 0.5,0.4, 0.55,0.15, 0.6,0, 0.7,0],
 [0.13,0, 0.17,0.4, 0.21,1.0, 0.237,1.21, 0.28,0.9, 0.33,0.52, 0.4,0.35, 0.45,0.24, 0.5,0.08, 0.6,0.01, 0.75,0.1, 0.82,0],
 [0.13,0, 0.17,0.45, 0.2,1.0, 0.232,1.25, 0.28,0.95, 0.32,0.75, 0.38,0.32, 0.44,0.1, 0.55,0.04, 0.61,0.1, 0.66,0],
 [0.15,0, 0.19,0.4, 0.23,1.0, 0.27,1.3, 0.31,1.0, 0.35,0.6, 0.4,0.28, 0.45,0.1, 0.52,0.02, 0.6,0],
 [0.16,0, 0.2,0.35, 0.24,1.0, 0.277,1.47, 0.31,1.1, 0.34,0.82, 0.4,0.35, 0.47,0.08, 0.53,0.1, 0.58,0, 0.7,0],
 [0.13,0, 0.18,0.35, 0.22,0.85, 0.27,1.08, 0.32,0.85, 0.38,0.43, 0.43,0.35, 0.49,0.25, 0.54,0.05, 0.58,0, 0.7,0],
 [0.11,0, 0.15,0.5, 0.19,1.0, 0.22,1.23, 0.26,1.0, 0.32,0.77, 0.4,0.3, 0.47,0.08, 0.55,0.02, 0.62,0.08, 0.68,0]
];

const dlbcTerms = ["RNA transport","Parkinson disease","Ribosome","Spliceosome","Oxidative phosphorylation","Thermogenesis","Huntington disease","Ribosome biogenesis in eukaryotes","DNA replication","Cell cycle","Non\u2212alcoholic fatty liver disease (NAFLD)","Alzheimer disease","Nucleotide excision repair","RNA degradation","Proteasome","Biosynthesis of amino acids","Fanconi anemia pathway","mRNA surveillance pathway","Cell adhesion molecules (CAMs)","Lysosome"];
const dlbcPadj = [0.011,0.011,0.011,0.011,0.011,0.011,0.011,0.011,0.011,0.011,0.011,0.011,0.011,0.011,0.011,0.011,0.011,0.011,0.011,0.011];
const dlbcTicks = [-0.5, 0, 0.5];
const dlbcBreaks = [0.011];
const dlbcBreakLabels = ["0.011"];
const dlbcRidges = [
 [0.24,0, 0.27,0.4, 0.31,1.0, 0.355,1.39, 0.39,1.05, 0.42,0.72, 0.48,0.5, 0.52,0.3, 0.57,0.05, 0.62,0],
 [0.23,0, 0.26,0.45, 0.3,0.85, 0.337,0.95, 0.4,0.75, 0.48,0.48, 0.53,0.2, 0.57,0.12, 0.63,0.15, 0.68,0],
 [0.22,0, 0.26,0.4, 0.3,0.75, 0.326,0.82, 0.38,0.53, 0.45,0.6, 0.52,0.63, 0.57,0.3, 0.62,0.15, 0.68,0.02, 0.72,0],
 [0.23,0, 0.27,0.45, 0.33,0.86, 0.38,0.76, 0.43,0.86, 0.47,0.55, 0.52,0.3, 0.58,0.1, 0.65,0.03, 0.73,0.1, 0.8,0],
 [0.23,0, 0.27,0.45, 0.31,0.85, 0.355,0.97, 0.4,0.8, 0.46,0.44, 0.52,0.2, 0.57,0.1, 0.63,0.15, 0.68,0],
 [0.23,0, 0.27,0.45, 0.31,0.85, 0.355,0.95, 0.41,0.75, 0.48,0.57, 0.53,0.2, 0.58,0.1, 0.63,0.14, 0.68,0],
 [0.23,0, 0.27,0.45, 0.31,0.9, 0.355,1.1, 0.41,0.8, 0.48,0.34, 0.54,0.12, 0.58,0.08, 0.63,0.12, 0.68,0],
 [0.23,0, 0.27,0.45, 0.31,0.9, 0.355,1.1, 0.41,0.8, 0.47,0.4, 0.52,0.29, 0.58,0.1, 0.65,0.05, 0.72,0.15, 0.8,0],
 [0.24,0, 0.28,0.25, 0.33,0.5, 0.38,0.72, 0.45,1.0, 0.52,0.86, 0.55,0.4, 0.58,0.1, 0.62,0, 0.7,0],
 [0.21,0, 0.25,0.4, 0.3,0.85, 0.326,0.91, 0.38,0.78, 0.46,0.85, 0.5,0.65, 0.54,0.2, 0.57,0.05, 0.62,0],
 [-0.35,0, -0.28,0.05, -0.22,0, 0.21,0, 0.25,0.45, 0.28,0.95, 0.316,1.12, 0.36,0.85, 0.41,0.6, 0.45,0.55, 0.52,0.2, 0.57,0.1, 0.63,0.13, 0.68,0],
 [0.21,0, 0.25,0.4, 0.3,0.85, 0.344,1.0, 0.39,0.8, 0.45,0.49, 0.52,0.3, 0.57,0.12, 0.63,0.17, 0.68,0],
 [0.29,0, 0.32,0.35, 0.36,0.9, 0.408,1.24, 0.45,1.05, 0.49,0.82, 0.54,0.4, 0.57,0.05, 0.62,0],
 [0.21,0, 0.25,0.45, 0.28,0.85, 0.316,0.97, 0.37,0.65, 0.43,0.35, 0.52,0.4, 0.6,0.2, 0.69,0.33, 0.75,0.1, 0.8,0],
 [0.21,0, 0.25,0.45, 0.29,1.2, 0.326,1.44, 0.36,1.2, 0.41,0.91, 0.47,0.4, 0.52,0.1, 0.56,0, 0.7,0],
 [0.23,0, 0.27,0.45, 0.3,0.85, 0.337,1.06, 0.39,0.65, 0.43,0.5, 0.486,0.59, 0.53,0.4, 0.58,0.1, 0.63,0, 0.7,0],
 [0.19,0, 0.23,0.4, 0.27,0.9, 0.3,1.15, 0.344,1.25, 0.38,1.0, 0.42,0.55, 0.46,0.1, 0.5,0, 0.6,0],
 [0.25,0, 0.28,0.3, 0.31,1.0, 0.344,1.73, 0.37,1.0, 0.4,0.3, 0.44,0.32, 0.49,0.25, 0.557,0.32, 0.6,0.05, 0.64,0],
 [-0.5,0, -0.45,0.3, -0.4,0.85, -0.33,1.6, -0.29,1.0, -0.25,0.3, -0.21,0, 0,0],
 [-0.52,0, -0.46,0.35, -0.4,1.0, -0.344,1.71, -0.3,1.2, -0.27,0.5, -0.24,0.05, -0.2,0]
];

// ---------------- layout (pixel boxes of each panel) ----------------
const panels = [
 {title:'BRCA', terms:brcaTerms, padj:brcaPadj, ridges:brcaRidges, ticks:brcaTicks, breaks:brcaBreaks, breakLabels:brcaBreakLabels, dec:1, step:0.25,
  box:[214.3,21.7,355.3,390], base:[42.7,379], xr:[-0.682,1.032], line:[-0.61,0.95], titlePos:[143,12.7], legend:[366,181.7,379,240.7]},
 {title:'COAD', terms:coadTerms, padj:coadPadj, ridges:coadRidges, ticks:coadTicks, breaks:coadBreaks, breakLabels:coadBreakLabels, dec:2, step:0.125,
  box:[597,21.7,720.7,389.3], base:[47.7,379], xr:[0.1185,1.022], line:[0.158,0.978], titlePos:[536.7,16.7], legend:[731,181.7,743.7,240.7]},
 {title:'ESCA', terms:escaTerms, padj:escaPadj, ridges:escaRidges, ticks:escaTicks, breaks:escaBreaks, breakLabels:escaBreakLabels, dec:2, step:0.125,
  box:[980.7,21.7,1117.7,389.3], base:[45,379], xr:[0.061,0.943], line:[0.104,0.898], titlePos:[915.7,17.3], legend:[1128.3,181.7,1140.7,240.7]},
 {title:'LIHC', terms:lihcTerms, padj:lihcPadj, ridges:lihcRidges, ticks:lihcTicks, breaks:lihcBreaks, breakLabels:lihcBreakLabels, dec:1, step:0.25,
  box:[194.3,429.3,356,797.7], base:[450,786.7], xr:[-0.73,1.067], line:[-0.644,0.98], titlePos:[143,408.3], legend:[366,589,379,648.3]},
 {title:'LUAD', terms:luadTerms, padj:luadPadj, ridges:luadRidges, ticks:luadTicks, breaks:luadBreaks, breakLabels:luadBreakLabels, dec:2, step:0.125,
  box:[582.7,429.3,740,797.7], base:[455,786.7], xr:[0.025,0.933], line:[0.067,0.89], titlePos:[538.3,431.7], legend:[751,589,763.3,648.3]},
 {title:'LUSC', terms:luscTerms, padj:luscPadj, ridges:luscRidges, ticks:luscTicks, breaks:luscBreaks, breakLabels:luscBreakLabels, dec:1, step:0.25,
  box:[980.7,429.3,1137.7,797.7], base:[447.3,786.3], xr:[-0.458,0.935], line:[-0.39,0.867], titlePos:[916.7,421.7], legend:[1148.3,589,1160.7,649.3]},
 {title:'PAAD', terms:paadTerms, padj:paadPadj, ridges:paadRidges, ticks:paadTicks, breaks:paadBreaks, breakLabels:paadBreakLabels, dec:1, step:0.1,
  box:[192.7,838,347.7,1207], base:[860.3,1196], xr:[0.116,0.909], line:[0.154,0.869], titlePos:[143.3,829.3], legend:[358.3,998.7,370.7,1058]},
 {title:'STAD', terms:stadTerms, padj:stadPadj, ridges:stadRidges, ticks:stadTicks, breaks:stadBreaks, breakLabels:stadBreakLabels, dec:2, step:0.125,
  box:[597.7,838,748.3,1207], base:[859.3,1196], xr:[0.085,0.971], line:[0.128,0.932], titlePos:[536.7,826.3], legend:[759,998.7,771,1058]},
 {title:'READ', terms:readTerms, padj:readPadj, ridges:readRidges, ticks:readTicks, breaks:readBreaks, breakLabels:readBreakLabels, dec:1, step:0.25,
  box:[999,838,1142.7,1207], base:[858.7,1196], xr:[-0.618,1.023], line:[-0.544,0.943], titlePos:[915.7,827.7], legend:[1153.3,997.7,1166,1058]},
 {title:'ACC', terms:accTerms, padj:accPadj, ridges:accRidges, ticks:accTicks, breaks:accBreaks, breakLabels:accBreakLabels, dec:2, step:0.125,
  box:[167.3,1248,354,1617], base:[1267,1606], xr:[0.1135,0.981], line:[0.154,0.947], titlePos:[142.3,1240.3], legend:[365,1409.3,376.7,1468]},
 {title:'BLCA', terms:blcaTerms, padj:blcaPadj, ridges:blcaRidges, ticks:blcaTicks, breaks:blcaBreaks, breakLabels:blcaBreakLabels, dec:2, step:0.125,
  box:[617.3,1248,748.3,1617], base:[1266.3,1605.7], xr:[0.0357,0.913], line:[0.076,0.875], titlePos:[536.7,1240.3], legend:[759,1409.3,771.7,1468]},
 {title:'DLBC', terms:dlbcTerms, padj:dlbcPadj, ridges:dlbcRidges, ticks:dlbcTicks, breaks:dlbcBreaks, breakLabels:dlbcBreakLabels, dec:1, step:0.25,
  box:[1011,1248,1152.3,1617], base:[1273,1606], xr:[-0.603,0.9], line:[-0.525,0.83], titlePos:[915.7,1241.3], legend:[1162.7,1409.3,1176,1468]}
];

// ---------------- styling helpers ----------------
const FONT = '"Liberation Serif", "DejaVu Serif", serif';
const FS = 10.5;
const TEXT = '#2f2f2f';
const RAMP = ['#EA4328', '#E2228E', '#3A2A8C']; // low p.adjust -> high p.adjust

function hexRgb(h) { return [parseInt(h.slice(1,3),16), parseInt(h.slice(3,5),16), parseInt(h.slice(5,7),16)]; }
function rampColor(t) {
  t = Math.max(0, Math.min(1, t));
  const seg = t < 0.5 ? 0 : 1;
  const lt = seg === 0 ? t / 0.5 : (t - 0.5) / 0.5;
  const a = hexRgb(RAMP[seg]), b = hexRgb(RAMP[seg + 1]);
  const c = a.map((v, i) => Math.round(v + (b[i] - v) * lt));
  return 'rgb(' + c.join(',') + ')';
}
function fmt(v, dec) {
  const s = (Math.abs(v) < 1e-9 ? 0 : v).toFixed(dec);
  return s.replace('-', '\u2212');
}

const option = {
  animation: false,
  backgroundColor: '#ffffff',
  grid: [], xAxis: [], yAxis: [], series: [], graphic: []
};

panels.forEach((p, k) => {
  const n = p.terms.length;
  const [L, T, R, B] = p.box;
  const sp = (p.base[1] - p.base[0]) / (n - 1);
  const yMax = (n - 1) + (p.base[0] - T) / sp;
  const yMin = -(B - p.base[1]) / sp;
  const rowIds = p.terms.map((_, i) => i);
  const pMin = Math.min(...p.padj), pMax = Math.max(...p.padj);
  const colorOf = v => rampColor(pMax > pMin ? (v - pMin) / (pMax - pMin) : 0.5);

  option.grid.push({
    left: L, top: T, width: R - L, height: B - T,
    show: true, borderColor: '#2b2b2b', borderWidth: 1.5, backgroundColor: 'transparent'
  });
  option.xAxis.push({
    type: 'value', gridIndex: k, min: p.xr[0], max: p.xr[1],
    axisLine: { show: false }, splitLine: { show: false },
    axisTick: { show: true, customValues: p.ticks, length: 3, lineStyle: { color: '#333', width: 1 } },
    axisLabel: { customValues: p.ticks, formatter: v => fmt(v, p.dec), fontFamily: FONT, fontSize: FS, color: TEXT, margin: 4 }
  });
  option.yAxis.push({
    type: 'value', gridIndex: k, min: yMin, max: yMax,
    axisLine: { show: false }, splitLine: { show: false },
    axisTick: { show: true, customValues: rowIds, length: 3, lineStyle: { color: '#333', width: 1 } },
    axisLabel: {
      customValues: rowIds,
      formatter: v => p.terms[n - 1 - Math.round(v)],
      fontFamily: FONT, fontSize: FS, color: TEXT, margin: 6, lineHeight: 11
    }
  });

  // dotted vertical guide lines
  const gx = [];
  for (let x = Math.ceil(p.xr[0] / p.step - 1e-6) * p.step; x <= p.xr[1] + 1e-9; x += p.step) gx.push(+x.toFixed(4));
  option.series.push({
    type: 'custom', xAxisIndex: k, yAxisIndex: k, silent: true, z: 1,
    data: gx.map(x => [x, 0]),
    renderItem: (params, api) => {
      const a = api.coord([api.value(0), yMin]);
      const b = api.coord([api.value(0), yMax]);
      return { type: 'line', shape: { x1: a[0], y1: a[1], x2: b[0], y2: b[1] },
               style: { stroke: '#333', lineWidth: 1.1, lineDash: [1.1, 8.7] } };
    }
  });

  // ridges: one item per row, lower rows painted over upper ones
  option.series.push({
    type: 'custom', xAxisIndex: k, yAxisIndex: k, silent: true, z: 2, clip: false,
    data: rowIds.map(i => [i, 0]),
    renderItem: (params, api) => {
      const i = api.value(0);
      const base = n - 1 - i;
      const flat = p.ridges[i];
      const pairs = [];
      for (let j = 0; j < flat.length; j += 2) pairs.push([flat[j], flat[j + 1]]);
      if (pairs[0][0] > p.line[0]) pairs.unshift([p.line[0], 0]);
      if (pairs[pairs.length - 1][0] < p.line[1]) pairs.push([p.line[1], 0]);
      const pts = pairs.map(([x, h]) => api.coord([x, base + h]));
      const basePx = api.coord([p.line[0], base])[1];
      let topPx = basePx;
      pts.forEach(q => { if (q[1] < topPx) topPx = q[1]; });
      const cons = [[pts[0][0], topPx - 2], [pts[pts.length - 1][0], basePx]];
      return {
        type: 'group',
        children: [
          { type: 'polygon', z2: i * 2,
            shape: { points: pts, smooth: 0.35, smoothConstraint: cons },
            style: { fill: colorOf(p.padj[i]), stroke: null } },
          { type: 'polyline', z2: i * 2 + 1,
            shape: { points: pts, smooth: 0.35, smoothConstraint: cons },
            style: { stroke: '#0d0d0d', lineWidth: 1.45, fill: null, lineJoin: 'round' } }
        ]
      };
    }
  });

  // panel title
  option.graphic.push({
    type: 'text', x: p.titlePos[0], y: p.titlePos[1], silent: true,
    style: { text: p.title, fontFamily: FONT, fontSize: FS, fill: '#222',
             textAlign: 'center', textVerticalAlign: 'middle', align: 'center', verticalAlign: 'middle' }
  });

  // colour bar legend
  const [lx0, ly0, lx1, ly1] = p.legend;
  const fill = pMax > pMin
    ? { type: 'linear', x: 0, y: 0, x2: 0, y2: 1,
        colorStops: [{ offset: 0, color: RAMP[0] }, { offset: 0.5, color: RAMP[1] }, { offset: 1, color: RAMP[2] }] }
    : rampColor(0.5);
  option.graphic.push({
    type: 'text', x: lx0, y: ly0 - 8, silent: true,
    style: { text: 'p.adjust', fontFamily: FONT, fontSize: FS, fill: '#222',
             textAlign: 'left', textVerticalAlign: 'middle', align: 'left', verticalAlign: 'middle' }
  });
  option.graphic.push({
    type: 'rect', silent: true,
    shape: { x: lx0, y: ly0, width: lx1 - lx0, height: ly1 - ly0 },
    style: { fill: fill }
  });
  p.breaks.forEach((b, j) => {
    const t = pMax > pMin ? (b - pMin) / (pMax - pMin) : 0.5;
    const ty = ly0 + t * (ly1 - ly0);
    const tl = (lx1 - lx0) / 5;
    option.graphic.push({ type: 'line', silent: true, shape: { x1: lx0, y1: ty, x2: lx0 + tl, y2: ty }, style: { stroke: '#fff', lineWidth: 1 } });
    option.graphic.push({ type: 'line', silent: true, shape: { x1: lx1 - tl, y1: ty, x2: lx1, y2: ty }, style: { stroke: '#fff', lineWidth: 1 } });
    option.graphic.push({
      type: 'text', x: lx1 + 2.5, y: ty, silent: true,
      style: { text: p.breakLabels[j], fontFamily: FONT, fontSize: FS, fill: TEXT,
               textAlign: 'left', textVerticalAlign: 'middle', align: 'left', verticalAlign: 'middle' }
    });
  });
});

const chart = echarts.init(document.getElementById('chart'), null, { renderer: 'canvas' });
chart.setOption(option);
</script>
</body>
</html>
